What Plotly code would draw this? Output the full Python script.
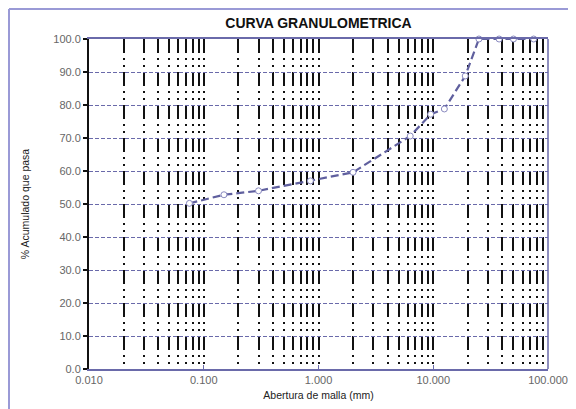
import plotly.graph_objects as go

# Data
abertura_mm = [0.075, 0.15, 0.30, 0.85, 2.0, 6.3, 9.5, 12.5, 19.0, 25.0, 37.5, 50.0, 75.0]
pct_pasa = [50.2, 52.8, 54.0, 57.0, 59.6, 70.6, 77.2, 78.8, 88.8, 100.0, 100.0, 100.0, 100.0]

x_tickvals = [0.01, 0.1, 1, 10, 100]
x_ticktext = ["0.010", "0.100", "1.000", "10.000", "100.000"]
y_tickvals = [0, 10, 20, 30, 40, 50, 60, 70, 80, 90, 100]

PURPLE = "#6a6aaa"
FONT = "Liberation Sans, Arial, sans-serif"

# The page body adds an 8px margin, so the figure is sized 568x401
W, H = 568, 401
L, T, R, B = 81, 31, 28, 40
PW, PH = W - L - R, H - T - B

fig = go.Figure()
fig.add_trace(go.Scatter(
    x=abertura_mm, y=pct_pasa, mode="lines+markers",
    line=dict(color="#5f5f9e", width=2.2, dash="8px,4px"),
    marker=dict(symbol="circle", size=6, color="white",
                line=dict(color="#8a8ac0", width=1)),
    cliponaxis=False, showlegend=False,
))

fig.update_layout(
    width=W, height=H,
    margin=dict(l=L, r=R, t=T, b=B, autoexpand=False),
    paper_bgcolor="white", plot_bgcolor="white",
    font=dict(family=FONT, size=11, color="#555"),
    title=dict(text="<b>CURVA GRANULOMETRICA</b>", x=0.5, xref="paper",
               xanchor="center",
               y=1 - 15 / H, yanchor="middle",
               font=dict(family=FONT, size=14, color="#111")),
    showlegend=False,
)

fig.update_xaxes(
    type="log", range=[-2, 2], automargin=False,
    tickvals=x_tickvals, ticktext=x_ticktext,
    showgrid=False, zeroline=False,
    ticks="inside", ticklen=4, tickcolor=PURPLE,
    showline=True, linecolor=PURPLE, linewidth=1.5, mirror=True,
    tickfont=dict(family=FONT, size=11, color="#666"),
    title=dict(text="Abertura de malla (mm)", standoff=7,
               font=dict(family=FONT, size=10.5, color="#222")),
    minor=dict(dtick="D1", showgrid=True, gridcolor="#111", gridwidth=2,
               griddash="14px,5px,2px,5px,2px,5px", ticks=""),
)

fig.update_yaxes(
    range=[0, 100], tickvals=y_tickvals, tickformat=".1f", automargin=False,
    showgrid=True, gridcolor=PURPLE, gridwidth=1, griddash="4px,2px",
    zeroline=False,
    ticks="outside", ticklen=4, tickcolor="#111", tickwidth=1.5,
    showline=True, linecolor="#111", linewidth=2,
    tickfont=dict(family=FONT, size=11, color="#666"),
    title=dict(text="% Acumulado que pasa", standoff=22,
               font=dict(family=FONT, size=10.5, color="#222")),
)

# right border of the plot area
fig.add_shape(type="line", xref="paper", yref="paper", x0=1, x1=1, y0=0, y1=1,
              line=dict(color=PURPLE, width=1.5))
# outer chart frame (left and top edges visible in the reference)
fx = (1 - L) / PW
fy = (H - B - 1) / PH
fig.add_shape(type="line", xref="paper", yref="paper",
              x0=fx, x1=fx, y0=-B / PH, y1=fy,
              line=dict(color="#9a9ad6", width=2))
fig.add_shape(type="line", xref="paper", yref="paper",
              x0=fx, x1=(W - L) / PW, y0=fy, y1=fy,
              line=dict(color="#9a9ad6", width=2))

fig.write_html("out.html")
